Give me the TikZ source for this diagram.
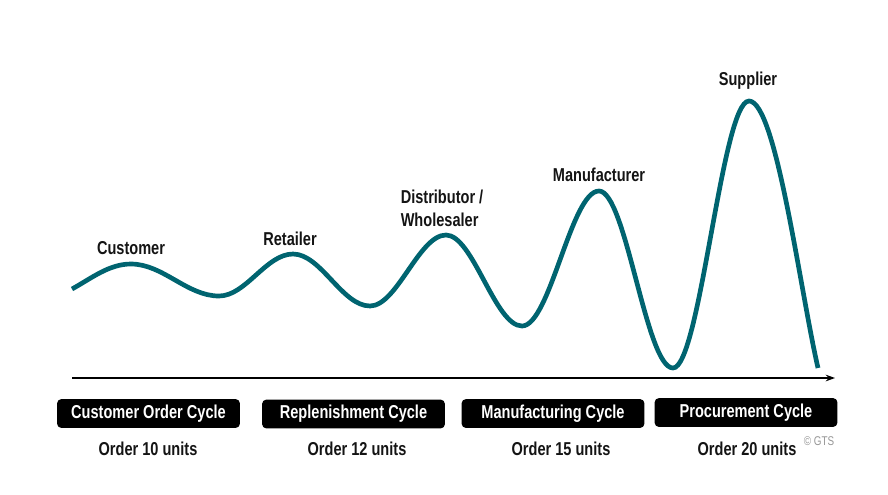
\documentclass[tikz,border=0pt]{standalone}
\usepackage{fontspec}
\setmainfont{Liberation Sans}[FakeStretch=0.78]
\usetikzlibrary{arrows.meta,positioning}
\definecolor{teal}{RGB}{0,100,112}
\definecolor{ink}{RGB}{20,20,20}
\definecolor{mist}{RGB}{150,150,150}

\begin{document}
\begin{tikzpicture}[x=0.75pt,y=-0.75pt,
    tier/.style={font=\fontsize{14}{17}\selectfont\bfseries,text=ink},
    cycle/.style={fill=black,text=white,rounded corners=3pt,font=\fontsize{14}{17}\selectfont\bfseries,minimum width=137pt,minimum height=21.5pt,inner sep=0pt},
    order/.style={font=\fontsize{14}{17}\selectfont\bfseries,text=ink}]
        \useasboundingbox (0,0) rectangle (888,494);
        % the swinging orders
        \draw[teal,line width=3.5pt] (72,289) .. controls (92,278) and (109,264) .. (131,264)
          .. controls (163,264) and (187,296) .. (219,296) .. controls (246,296) and (266,254) .. (293,254)
          .. controls (321,254) and (342,306) .. (370,306) .. controls (397,306) and (419,235) .. (446,235)
          .. controls (473,235) and (495,326) .. (522,326) .. controls (550,326) and (571,191) .. (599,191)
          .. controls (626,191) and (646,368) .. (673,368) .. controls (700,368) and (722,101) .. (749,101)
          .. controls (776,101) and (800,290) .. (818,368);
        \node[tier] (cust) at (131,248) {Customer};
        \node[tier] (ret) at (290,239) {Retailer};
        \node[tier,align=left,inner sep=0pt] (dist) at (442,208) {Distributor /\\Wholesaler};
        \node[tier] (manu) at (599,175) {Manufacturer};
        \node[tier] (supp) at (748,81) {Supplier};
        % time axis
        \coordinate (t0) at (72,378); \coordinate (t1) at (835,378);
        \draw[-{Stealth[length=7pt,width=5pt]},line width=1.3pt,black] (t0) -- (t1);
        \node[cycle] (c1) at (148.5,413.5) {Customer Order Cycle};
        \node[cycle] (c2) at (353.5,414) {Replenishment Cycle};
        \node[cycle] (c3) at (553,413.5) {Manufacturing Cycle};
        \node[cycle] (c4) at (746,412.5) {Procurement Cycle};
        \node[order] (o1) at (148,449) {Order 10 units};
        \node[order] (o2) at (357,449) {Order 12 units};
        \node[order] (o3) at (561,449) {Order 15 units};
        \node[order] (o4) at (747,449) {Order 20 units};
        \node[font=\fontsize{9.5}{11}\selectfont,text=mist] (gts) at (819,441) {\char"00A9{} GTS};
      \end{tikzpicture}
\end{document}
